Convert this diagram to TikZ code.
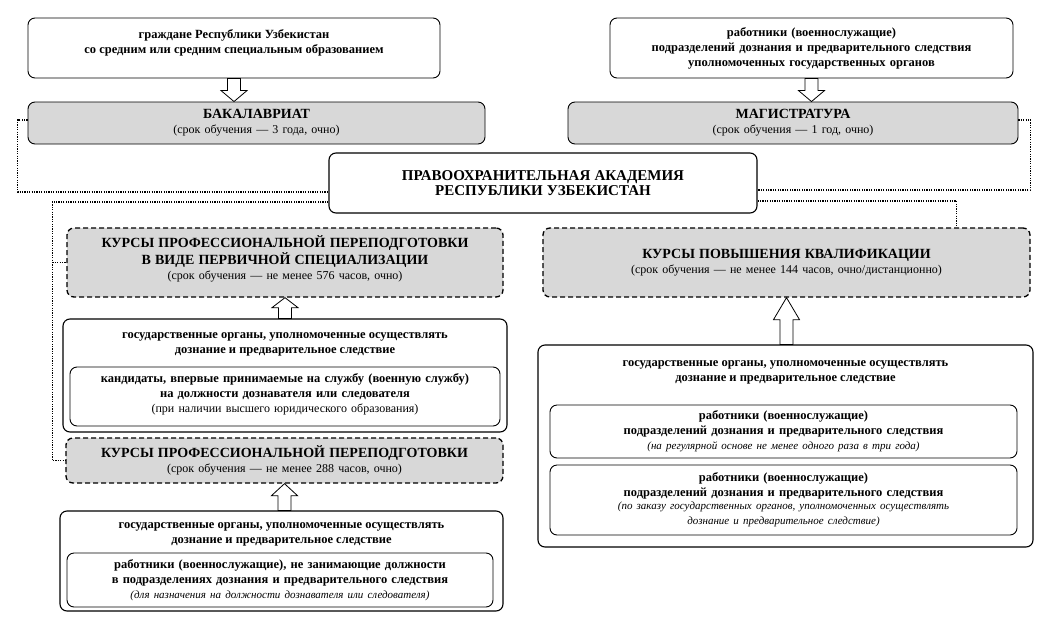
\documentclass[tikz,border=0pt]{standalone}
\usepackage{fontspec}
\setmainfont{Liberation Serif}
\usetikzlibrary{positioning}
\usetikzlibrary{calc}

\definecolor{boxgray}{RGB}{216,216,216}
\newcommand{\ttl}{\fontsize{14}{17}\selectfont\bfseries}
\newcommand{\srk}{\normalfont\fontsize{12}{15}\selectfont}
\newcommand{\itl}{\normalfont\fontsize{11}{13}\selectfont\itshape}
\newcommand{\hollowarrow}[3][11pt]{%
  \draw[blockarrow] ($(#2)+(-6.5pt,0)$) -- ($(#3)!#1!(#2)+(-6.5pt,0)$)
    -- ($(#3)!#1!(#2)+(-13pt,0)$) -- (#3) -- ($(#3)!#1!(#2)+(13pt,0)$)
    -- ($(#3)!#1!(#2)+(6.5pt,0)$) -- ($(#2)+(6.5pt,0)$) -- cycle;}

\begin{document}
\begin{tikzpicture}[x=1pt, y=-1pt,
    every node/.style={align=center, inner sep=0pt, font=\fontsize{12.5}{15}\selectfont\bfseries},
    box/.style={draw, rounded corners=7pt, line width=0.9pt, fill=white},
    sz/.style 2 args={text width=#1, minimum height=#2},
    greybox/.style={box, fill=boxgray},
    dashbox/.style={greybox, line width=1.3pt, dash pattern=on 5pt off 3pt},
    outerbox/.style={box, line width=1.1pt},
    link/.style={line width=1.2pt, dash pattern=on 1.2pt off 1.2pt},
    blockarrow/.style={draw, fill=white, line width=0.8pt}]
  \useasboundingbox (0,0) rectangle (1058,627);

  % Узлы
  \node[box, sz={412pt}{60pt}] (grazh) at (234,48) {};
  \node[below=12pt of grazh.north] (grazht) {граждане Республики Узбекистан\\со средним или средним специальным образованием};
  \node[box, sz={403pt}{60pt}] (rabotn) at (811.5,48) {работники (военнослужащие)\\подразделений дознания и предварительного следствия\\уполномоченных государственных органов};
  \node[greybox, sz={457pt}{42pt}] (bak) at (256.5,123) {{\ttl БАКАЛАВРИАТ\par}{\srk (срок обучения — 3 года, очно)\par}};
  \node[greybox, sz={450pt}{42pt}] (mag) at (793,123) {{\ttl МАГИСТРАТУРА\par}{\srk (срок обучения — 1 год, очно)\par}};
  \node[outerbox, sz={428pt}{60pt}] (acad) at (543,183) {\fontsize{15}{19}\selectfont ПРАВООХРАНИТЕЛЬНАЯ АКАДЕМИЯ\\РЕСПУБЛИКИ УЗБЕКИСТАН};
  \node[dashbox, sz={436pt}{69pt}] (kpp1) at (285,262.5) {{\ttl КУРСЫ ПРОФЕССИОНАЛЬНОЙ ПЕРЕПОДГОТОВКИ\\В ВИДЕ ПЕРВИЧНОЙ СПЕЦИАЛИЗАЦИИ\par}{\srk (срок обучения — не менее 576 часов, очно)\rule[-10pt]{0pt}{10pt}\par}};
  \node[dashbox, sz={487pt}{69pt}] (kpk) at (786.5,262.5) {{\ttl КУРСЫ ПОВЫШЕНИЯ КВАЛИФИКАЦИИ\par}{\srk (срок обучения — не менее 144 часов, очно/дистанционно)\par}};

  \node[outerbox, sz={444pt}{113pt}] (go1) at (285,375.5) {};
  \node[below=14pt of go1.north] (go1t) {государственные органы, уполномоченные осуществлять\\дознание и предварительное следствие};
  \node[box, sz={430pt}{59pt}] (go1in) at (285,396.5) {кандидаты, впервые принимаемые на службу (военную службу)\\на должности дознавателя или следователя\\{\srk (при наличии высшего юридического образования)\rule[-6pt]{0pt}{6pt}}};
  \node[dashbox, sz={437pt}{45pt}] (kpp2) at (284.5,460.5) {{\ttl КУРСЫ ПРОФЕССИОНАЛЬНОЙ ПЕРЕПОДГОТОВКИ\par}{\srk (срок обучения — не менее 288 часов, очно)\rule[-3pt]{0pt}{3pt}\par}};
  \node[outerbox, sz={443pt}{100pt}] (go2) at (281.5,561) {};
  \node[below=12pt of go2.north] (go2t) {государственные органы, уполномоченные осуществлять\\дознание и предварительное следствие};
  \node[box, sz={426pt}{54pt}] (go2in) at (280,580) {работники (военнослужащие), не занимающие должности\\в подразделениях дознания и предварительного следствия\\{\itl (для назначения на должности дознавателя или следователя)}};

  \node[outerbox, sz={495pt}{202pt}] (go3) at (785.5,446) {};
  \node[below=16pt of go3.north] (go3t) {государственные органы, уполномоченные осуществлять\\дознание и предварительное следствие};
  \node[box, sz={467pt}{53pt}] (go3a) at (783.5,431.5) {работники (военнослужащие)\\подразделений дознания и предварительного следствия\\{\itl (на регулярной основе не менее одного раза в три года)}};
  \node[box, sz={467pt}{70pt}] (go3b) at (783.5,500) {работники (военнослужащие)\\подразделений дознания и предварительного следствия\\{\itl (по заказу государственных органов, уполномоченных осуществлять\\дознание и предварительное следствие)}};

  % Связи
  \coordinate (aw1) at ($(acad.west)+(0,9)$);
  \coordinate (aw2) at ($(acad.west)+(0,19)$);
  \coordinate (ae1) at ($(acad.east)+(0,7)$);
  \coordinate (ae2) at ($(acad.east)+(0,18)$);
  \coordinate (lbus) at ($(kpp2.west)+(-13,0)$);
  \draw[link] ([yshift=3pt]bak.west) -- ++(-10,0) |- (aw1);
  \draw[link] ([yshift=3pt]mag.east) -- ++(12,0) |- (ae1);
  \draw[link] (aw2) -| (lbus) -- (kpp2.west);
  \draw[link] (kpp1.west -| lbus) -- (kpp1.west);
  \draw[link] (ae2) -| ($(kpk.north)+(170,0)$);

  \hollowarrow{grazh.south}{grazh.south |- bak.north}
  \hollowarrow{rabotn.south}{rabotn.south |- mag.north}
  \hollowarrow[10pt]{kpp1.south |- go1.north}{kpp1.south}
  \hollowarrow[12pt]{kpp2.south |- go2.north}{kpp2.south}
  \hollowarrow[22pt]{kpk.south |- go3.north}{kpk.south}
\end{tikzpicture}
\end{document}
